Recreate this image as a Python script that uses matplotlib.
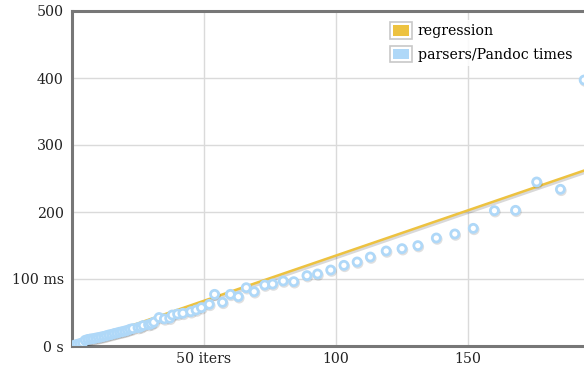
import matplotlib
matplotlib.use("Agg")
import matplotlib.pyplot as plt
import matplotlib.patheffects as pe
from matplotlib.patches import Rectangle, Patch
from matplotlib.legend_handler import HandlerBase

# Data (iterations vs measured time in ms)
iters = [1, 2, 3, 4, 5, 6, 7, 8, 9, 10, 11, 12, 13, 14, 15, 16, 17, 18, 19, 20,
         21, 22, 23, 25, 26, 27, 29, 30, 31, 33, 35, 37, 38, 40, 42, 45, 47, 49,
         52, 54, 57, 60, 63, 66, 69, 73, 76, 80, 84, 89, 93, 98, 103, 108, 113,
         119, 125, 131, 138, 145, 152, 160, 168, 176, 185, 194]
times_ms = [1.3, 2.5, 3.6, 4.8, 8.5, 9.8, 10.5, 11.0, 11.8, 12.6, 13.4, 14.3, 15.4,
            16.5, 17.3, 18.6, 19.4, 20.5, 21.4, 22.3, 23.4, 25.0, 26.0, 27.5, 28.5,
            30.6, 32.0, 33.0, 35.5, 42.5, 40.5, 41.5, 46.3, 47.8, 48.8, 51.2, 53.7,
            57.2, 62.2, 77.1, 65.2, 77.1, 73.6, 87.0, 81.0, 91.0, 92.5, 97.0, 96.0,
            105.0, 107.5, 113.4, 120.4, 125.4, 132.8, 141.8, 145.3, 149.8, 161.2,
            167.2, 175.6, 202.0, 202.5, 244.8, 233.9, 397.0]
reg_slope = 1.35  # ms per iteration
reg_x = [0, 200]
reg_y = [reg_slope * v for v in reg_x]

series_labels = ["regression", "parsers/Pandoc times"]
yticks = [0, 100, 200, 300, 400, 500]
ytick_labels = ["0 s", "100 ms", "200", "300", "400", "500"]
xticks = [50, 100, 150]
xtick_labels = ["50 iters", "100", "150"]

YELLOW = "#edc240"
BLUE = "#afd8f8"

plt.rcParams['font.family'] = ['DejaVu Serif']
FS = 10.2

W, H = 584, 372
fig = plt.figure(figsize=(W / 100, H / 100), dpi=100)
ax = fig.add_axes([72 / W, 26 / H, 528 / W, 335 / H])
ax.set_xlim(0, 200)
ax.set_ylim(0, 500)

ax.set_yticks(yticks)
ax.set_yticklabels(ytick_labels)
ax.set_xticks(xticks)
ax.set_xticklabels(xtick_labels)
ax.tick_params(length=0, labelsize=FS, colors="#222222", pad=6)
ax.tick_params(axis='x', pad=4)

ax.grid(True, color="#dadada", linewidth=1.0)
ax.set_axisbelow(True)
for side in ["left", "top", "bottom"]:
    ax.spines[side].set_color("#777777")
    ax.spines[side].set_linewidth(2.2)
ax.spines["right"].set_visible(False)

shadow_line = [pe.SimpleLineShadow(offset=(0.6, -1.0), shadow_color="black", alpha=0.15, linewidth=3), pe.Normal()]
ax.plot(reg_x, reg_y, color=YELLOW, linewidth=1.8, zorder=3, path_effects=shadow_line,
        solid_capstyle="butt")

ax.plot(iters, times_ms, linestyle="none", marker="o", markersize=5.8,
        markerfacecolor="white", markeredgecolor=BLUE, markeredgewidth=2.0, zorder=4,
        path_effects=[pe.SimpleLineShadow(offset=(0.6, -1.0), shadow_color="black", alpha=0.12),
                      pe.Normal()])


class BoxHandler(HandlerBase):
    def create_artists(self, legend, orig_handle, xdescent, ydescent, width, height, fontsize, trans):
        outer = Rectangle((-xdescent, -ydescent - 2), width, height + 4, facecolor="white",
                          edgecolor="#c8c8c8", linewidth=1.2, transform=trans)
        inner = Rectangle((-xdescent + 2, -ydescent), width - 4, height, facecolor=orig_handle.get_facecolor(),
                          edgecolor="none", transform=trans)
        return [outer, inner]


handles = [Patch(facecolor=YELLOW), Patch(facecolor=BLUE)]
leg = ax.legend(handles, series_labels, loc="upper left", bbox_to_anchor=(379 / W, (H - 13) / H),
                bbox_transform=fig.transFigure, frameon=True, fontsize=FS, handlelength=1.5,
                handleheight=0.78, handletextpad=0.45, labelspacing=0.68, borderpad=0.3,
                handler_map={Patch: BoxHandler()})
leg.get_frame().set_facecolor("white")
leg.get_frame().set_alpha(0.85)
leg.get_frame().set_edgecolor("none")
leg.get_frame().set_boxstyle("square", pad=0)

fig.savefig("out.png", dpi=100)
